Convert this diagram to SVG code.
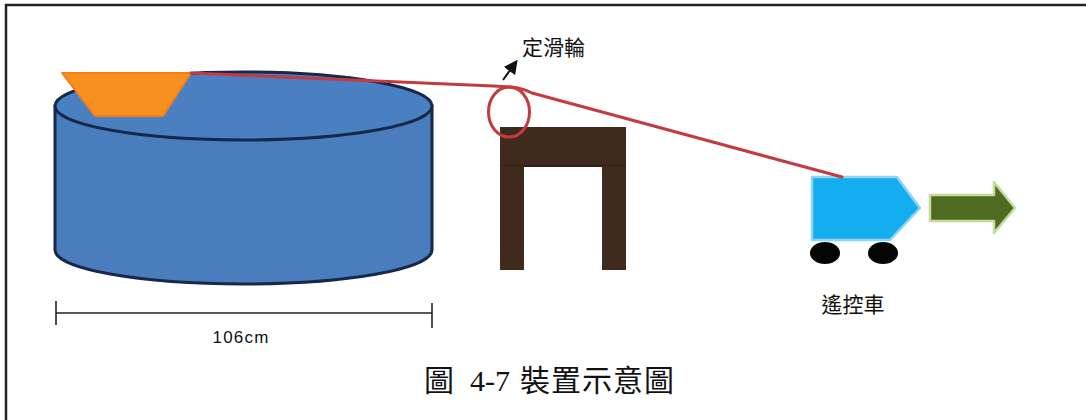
<svg xmlns="http://www.w3.org/2000/svg" width="1086" height="420" viewBox="0 0 1086 420">
  <style>
    .label { font-family: "Liberation Sans", "Noto Sans CJK TC", sans-serif; fill: #111; }
    .caption { font-family: "Liberation Serif", "Noto Sans CJK TC", serif; fill: #111; font-size: 30px; }
    .rope { fill: none; stroke: #c43a3f; stroke-width: 3; stroke-linecap: round; stroke-linejoin: round; }
    .wood { fill: #3e2b1e; }
  </style>
  <defs>
    <marker id="arrowHead" viewBox="0 0 10 10" refX="8" refY="5" markerWidth="7" markerHeight="7" orient="auto-start-reverse">
      <path d="M0,0 L10,5 L0,10 z" fill="#111"/>
    </marker>
  </defs>

  <!-- frame: top and left rules -->
  <rect x="0" y="0" width="1086" height="420" fill="#ffffff"/>
  <line x1="5" y1="5" x2="1086" y2="5" stroke="#222" stroke-width="2.5"/>
  <line x1="6" y1="4" x2="6" y2="420" stroke="#222" stroke-width="2.5"/>

  <!-- water tank -->
  <g id="tank">
    <path d="M55,106 L55,250 A188.5,34 0 0 0 432,250 L432,106 Z" fill="#4a7dbd" stroke="#16294a" stroke-width="3"/>
    <ellipse cx="243.5" cy="106" rx="188.5" ry="34" fill="#4a80c2" stroke="#16294a" stroke-width="3"/>
  </g>

  <!-- floating box -->
  <g id="float">
    <polygon points="62,73 191,73 163,116 95,116" fill="#f7901e" stroke="#f57f17" stroke-width="2" stroke-linejoin="round"/>
  </g>

  <!-- stand under the pulley -->
  <g id="stand">
    <rect class="wood" x="500" y="127" width="126" height="40"/>
    <line x1="500" y1="166" x2="626" y2="166" stroke="#22160f" stroke-width="1"/>
    <rect class="wood" x="500" y="166" width="24" height="104"/>
    <rect class="wood" x="602" y="166" width="24" height="104"/>
  </g>

  <!-- remote-controlled car -->
  <g id="car">
    <polygon points="812,177 897,177 920,208 890,240 812,240" fill="#14aef0" stroke="#8fd4f2" stroke-width="2.5" stroke-linejoin="round"/>
    <ellipse cx="825" cy="253" rx="15" ry="11" fill="#050505"/>
    <ellipse cx="883" cy="253" rx="15" ry="11" fill="#050505"/>
    <text class="label" x="853" y="312" font-size="21" text-anchor="middle">遙控車</text>
  </g>

  <!-- direction of travel -->
  <g id="motion-arrow">
    <polygon points="930,195 994,195 994,182 1015,208 994,233 994,221 930,221" fill="#4f6b22" stroke="#c7dc9c" stroke-width="2.5" stroke-linejoin="round"/>
  </g>

  <!-- connectors: rope, pulley and callout -->
  <g id="connectors">
    <path class="rope" d="M191,73 L470,85 Q505,86 518,88 Q526,90 532,93 L842,177"/>
    <ellipse id="pulley" cx="509" cy="112" rx="20.5" ry="25" fill="none" stroke="#c43a3f" stroke-width="3"/>
    <line x1="503" y1="80" x2="516" y2="62" stroke="#111" stroke-width="2" marker-end="url(#arrowHead)"/>
  </g>

  <g id="pulley-label">
    <text class="label" x="522" y="55" font-size="21">定滑輪</text>
  </g>

  <!-- width dimension -->
  <g id="dimension">
    <line x1="56" y1="313" x2="432" y2="313" stroke="#222" stroke-width="1.6"/>
    <line x1="56" y1="301" x2="56" y2="325" stroke="#222" stroke-width="1.6"/>
    <line x1="432" y1="303" x2="432" y2="328" stroke="#222" stroke-width="1.6"/>
    <text class="label" x="241" y="343" font-size="17" letter-spacing="1.2" text-anchor="middle" fill="#1d2742">106cm</text>
  </g>

  <!-- figure caption -->
  <text class="caption" y="391"><tspan x="424">圖</tspan><tspan x="470">4-7</tspan><tspan x="520" letter-spacing="1">裝置示意圖</tspan></text>
</svg>
